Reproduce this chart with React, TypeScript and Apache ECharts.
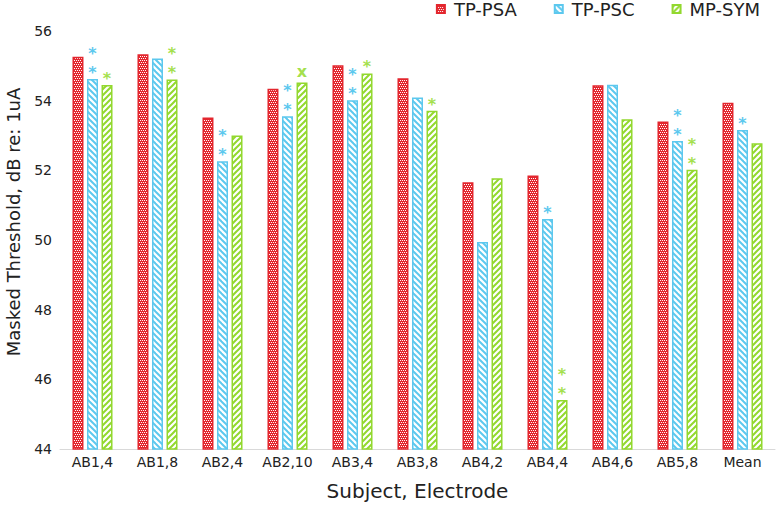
import React, { useEffect, useRef } from "react";
import * as echarts from "echarts";

const categories = ["AB1,4", "AB1,8", "AB2,4", "AB2,10", "AB3,4", "AB3,8", "AB4,2", "AB4,4", "AB4,6", "AB5,8", "Mean"];
const seriesNames = ["TP-PSA", "TP-PSC", "MP-SYM"];
const tpPsa = [55.26, 55.33, 53.52, 54.34, 55.02, 54.64, 51.66, 51.85, 54.44, 53.4, 53.94];
const tpPsc = [54.62, 55.21, 52.26, 53.55, 54.01, 54.09, 49.94, 50.6, 54.46, 52.84, 53.16];
const mpSym = [54.45, 54.61, 53.0, 54.52, 54.78, 53.71, 51.77, 45.41, 53.47, 52.02, 52.78];
const psaMarks = ["", "", "", "", "", "", "", "", "", "", ""];
const pscMarks = ["**", "", "**", "**", "**", "", "", "*", "", "**", "*"];
const symMarks = ["*", "**", "", "x", "*", "*", "", "**", "", "**", ""];

const RED = "#e3262e";
const BLUE = "#5cc8ee";
const GREEN = "#92d82e";
const FONT = "DejaVu Sans";

function makePattern(kind: string): HTMLCanvasElement {
  const c = document.createElement("canvas");
  if (kind === "check") {
    c.width = 4;
    c.height = 4;
    const g = c.getContext("2d")!;
    g.fillStyle = RED;
    g.fillRect(0, 0, 4, 4);
    g.fillStyle = "#ffffff";
    g.fillRect(0, 0, 1, 1);
    g.fillRect(2, 0, 1, 1);
    g.fillRect(1, 2, 1, 1);
    g.fillRect(3, 2, 1, 1);
    return c;
  }
  const s = 6;
  c.width = s;
  c.height = s;
  const g = c.getContext("2d")!;
  g.fillStyle = "#ffffff";
  g.fillRect(0, 0, s, s);
  g.strokeStyle = kind === "back" ? BLUE : GREEN;
  g.lineWidth = 2;
  const seg = (x1: number, y1: number, x2: number, y2: number) => {
    g.beginPath();
    g.moveTo(x1, y1);
    g.lineTo(x2, y2);
    g.stroke();
  };
  if (kind === "back") {
    seg(-1, -1, s + 1, s + 1);
    seg(s - 1, -1, s + 1, 1);
    seg(-1, s - 1, 1, s + 1);
  } else {
    seg(-1, s + 1, s + 1, -1);
    seg(-1, 1, 1, -1);
    seg(s - 1, s + 1, s + 1, s - 1);
  }
  return c;
}

function buildData(values: number[], marks: string[], color: string) {
  return values.map((v, i) => {
    const m = marks[i];
    if (!m) return { value: v };
    const isX = m === "x";
    return {
      value: v,
      label: {
        show: true,
        position: "top",
        distance: isX ? 3 : -3,
        color,
        fontFamily: FONT,
        fontSize: 16,
        fontWeight: "bold",
        lineHeight: isX ? 16 : 19,
        formatter: m.split("").join("\n"),
      },
    };
  });
}

export default function App() {
  const ref = useRef<HTMLDivElement>(null);
  useEffect(() => {
    if (!ref.current) return;
    const chart = echarts.init(ref.current, undefined, { renderer: "svg" });
    const pats = [makePattern("check"), makePattern("back"), makePattern("fwd")];
    const borders = [RED, BLUE, GREEN];
    const vals = [tpPsa, tpPsc, mpSym];
    const marks = [psaMarks, pscMarks, symMarks];
    const labelColors = [RED, BLUE, "#a4e04e"];
    chart.setOption({
      animation: false,
      legend: {
        top: 0,
        right: 20,
        padding: 0,
        itemWidth: 16,
        itemHeight: 8,
        itemGap: 37,
        icon: "path://M0,0H10V10H0Z",
        textStyle: { fontFamily: FONT, fontSize: 18, color: "#222" },
        data: seriesNames,
      },
      grid: { left: 60, right: 5, top: 31, bottom: 56, outerBoundsMode: "none", containLabel: false },
      xAxis: {
        type: "category",
        data: categories,
        name: "Subject, Electrode",
        nameLocation: "middle",
        nameGap: 32,
        nameTextStyle: { fontFamily: FONT, fontSize: 20, color: "#222" },
        axisLine: { lineStyle: { color: "#d9d9d9", width: 1 } },
        axisTick: { show: false },
        axisLabel: { interval: 0, fontFamily: FONT, fontSize: 14, color: "#222", margin: 6 },
      },
      yAxis: {
        type: "value",
        min: 44,
        max: 56,
        interval: 2,
        name: "Masked Threshold, dB re: 1uA",
        nameLocation: "middle",
        nameGap: 38,
        nameTextStyle: { fontFamily: FONT, fontSize: 18, color: "#222", padding: [0, 0, 0, 36] },
        axisLine: { show: false },
        axisTick: { show: false },
        splitLine: { show: false },
        axisLabel: { fontFamily: FONT, fontSize: 14, color: "#222", margin: 8 },
      },
      series: seriesNames.map((name, k) => ({
        name,
        type: "bar",
        barWidth: 11,
        barGap: "32%",
        itemStyle: {
          color: { image: pats[k], repeat: "repeat" },
          borderColor: borders[k],
          borderWidth: 1.5,
        },
        data: buildData(vals[k], marks[k], labelColors[k]),
      })),
    });
    return () => chart.dispose();
  }, []);
  return <div ref={ref} style={{ width: 780, height: 505, position: "absolute", left: 0, top: 0 }} />;
}
